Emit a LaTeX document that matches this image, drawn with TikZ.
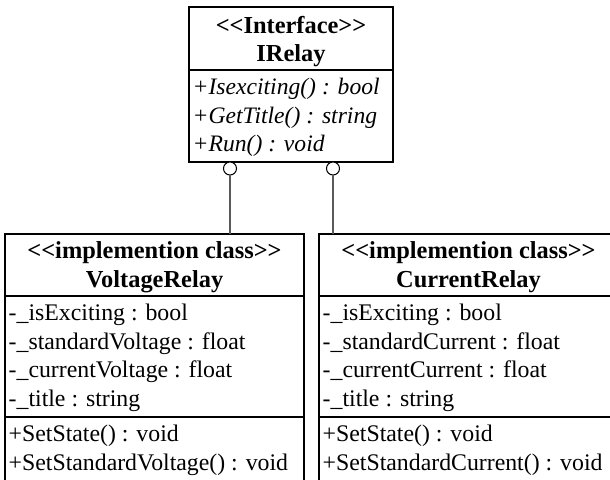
\documentclass[tikz,border=0pt]{standalone}
\usepackage{fontspec}
\setmainfont{Liberation Serif}
\newcommand\umlfs{\fontsize{23.8}{28.5}\selectfont}
\newcommand\umlifs{\fontsize{23.6}{28.5}\selectfont}
\newcommand\umlhfs{\fontsize{24.4}{28.5}\selectfont}
\newcommand\dlt{<\kern0pt<}
\newcommand\dgt{>\kern0pt>}
\begin{document}
\begin{tikzpicture}[x=1pt,y=-1pt,
  umlbox/.style={draw=black,line width=2pt,rectangle,inner sep=0pt,outer sep=0pt,anchor=north west},
  divider/.style={draw=black,line width=2pt},
  lolli/.style={draw=black,line width=1pt,circle,fill=white,inner sep=0pt,outer sep=0pt,minimum size=13pt},
  conn/.style={draw=black!65,line width=1.5pt},
  head/.style={inner sep=0pt,anchor=base,font=\umlhfs\bfseries},
  item/.style={inner sep=0pt,anchor=base west,font=\umlfs},
  iitem/.style={inner sep=0pt,anchor=base west,font=\umlifs\itshape}]
\useasboundingbox (0,0) rectangle (610,479);
\clip (0,0) rectangle (610,479);
% interface
\node[umlbox,minimum width=204pt,minimum height=155pt] (iface) at (189,7) {};
\draw[divider] (189,70) -- (393,70);
\node[head] (ih1) at (291,33) {\dlt Interface\dgt};
\node[head] (ih2) at (291,61.5) {IRelay};
\node[iitem] (im1) at (192.5,94.5) {+Isexciting() : bool};
\node[iitem] (im2) at (192.5,123) {+GetTitle() : string};
\node[iitem] (im3) at (192.5,151.5) {+Run() : void};
% voltage relay
\node[umlbox,minimum width=299pt,minimum height=300pt] (vbox) at (5,234) {};
\draw[divider] (5,296) -- (304,296);
\draw[divider] (5,417) -- (304,417);
\node[head] (vh1) at (154.5,258.5) {\dlt implemention class\dgt};
\node[head] (vh2) at (154.5,287) {VoltageRelay};
\node[item] (va1) at (8.5,320.5) {-\_isExciting : bool};
\node[item] (va2) at (8.5,349) {-\_standardVoltage : float};
\node[item] (va3) at (8.5,377.5) {-\_currentVoltage : float};
\node[item] (va4) at (8.5,406) {-\_title : string};
\node[item] (vm1) at (8.5,441.5) {+SetState() : void};
\node[item] (vm2) at (8.5,470) {+SetStandardVoltage() : void};
% current relay
\node[umlbox,minimum width=299pt,minimum height=300pt] (cbox) at (319,234) {};
\draw[divider] (319,296) -- (620,296);
\draw[divider] (319,417) -- (620,417);
\node[head] (ch1) at (468.5,258.5) {\dlt implemention class\dgt};
\node[head] (ch2) at (468.5,287) {CurrentRelay};
\node[item] (ca1) at (322.5,320.5) {-\_isExciting : bool};
\node[item] (ca2) at (322.5,349) {-\_standardCurrent : float};
\node[item] (ca3) at (322.5,377.5) {-\_currentCurrent : float};
\node[item] (ca4) at (322.5,406) {-\_title : string};
\node[item] (cm1) at (322.5,441.5) {+SetState() : void};
\node[item] (cm2) at (322.5,470) {+SetStandardCurrent() : void};
% lollipops
\node[lolli] (lv) at (230,168.5) {};
\node[lolli] (lc) at (333,168.5) {};
\draw[conn] (lv.south) -- (lv.south |- vbox.north);
\draw[conn] (lc.south) -- (lc.south |- cbox.north);
\end{tikzpicture}
\end{document}
